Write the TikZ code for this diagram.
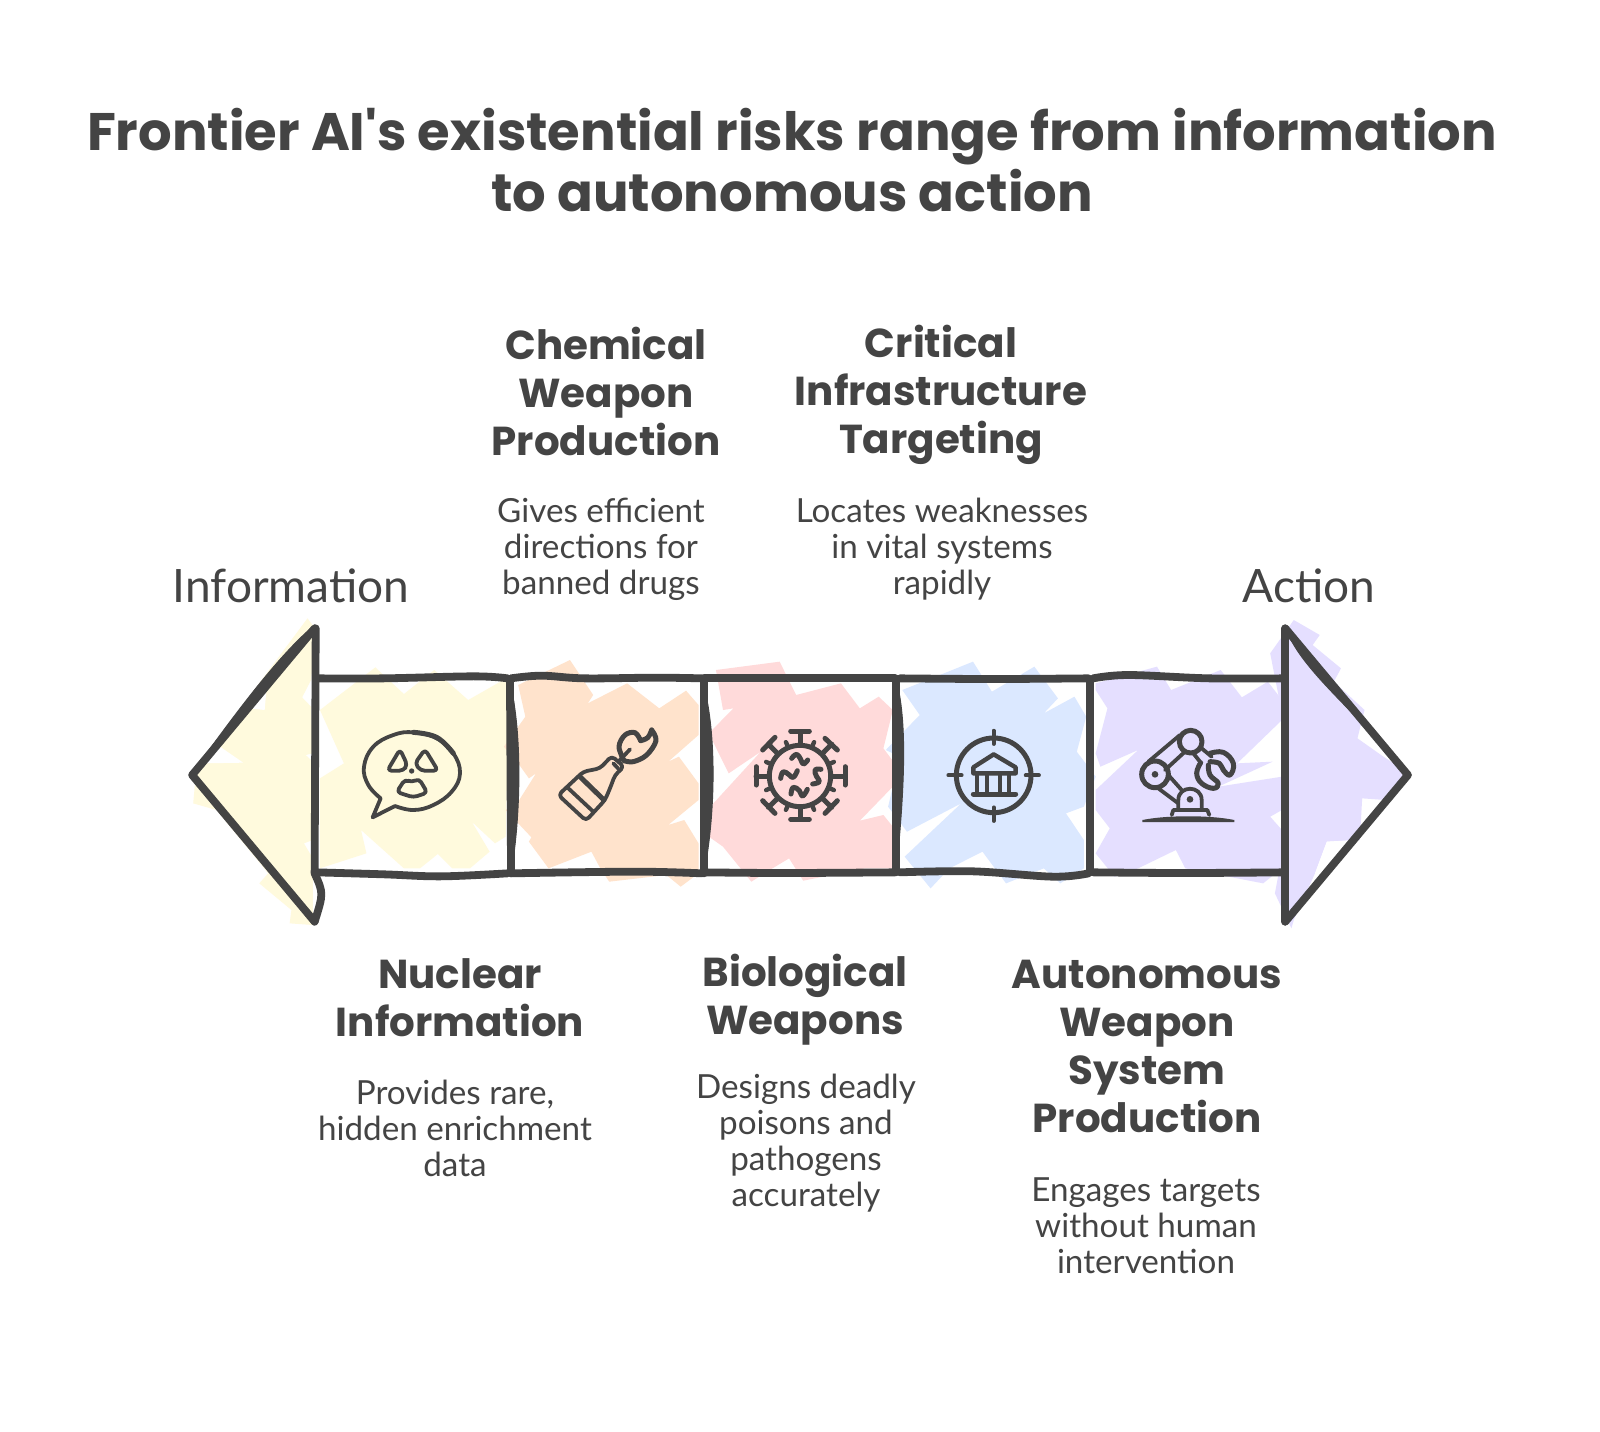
\documentclass[tikz,border=0pt]{standalone}
\usepackage{fontspec}
\setmainfont{Poppins}
\newfontfamily\headfont{Poppins}
\newfontfamily\bodyfont{Lato}
\definecolor{ink}{HTML}{444444}
\definecolor{cyel}{HTML}{FFFADD}
\definecolor{corg}{HTML}{FFE3CC}
\definecolor{cred}{HTML}{FFDADA}
\definecolor{cblu}{HTML}{DBE8FF}
\definecolor{cpur}{HTML}{E5DFFF}
\tikzset{
  zone1/.style={shift={(170,610)},xscale=1/2.8,yscale=1/3},
  zone2/.style={shift={(690,610)},xscale=1/2.12,yscale=1/3},
  icon/.style={xscale=1/3,yscale=1/3},
  ol/.style={draw=ink,line width=3.9pt,line cap=round,line join=round},
  lens/.style={fill=ink,draw=ink,line width=.5pt,line join=round},
  ic/.style={draw=ink,line width=1.9pt,line cap=round,line join=round},
  icthick/.style={draw=ink,line width=2.5pt,line cap=round,line join=round},
  titletext/.style={inner sep=0pt,align=center,text=ink,font=\headfont\fontsize{26.4}{30.4}\selectfont\bfseries},
  headtext/.style={inner sep=0pt,align=center,text=ink,font=\headfont\fontsize{20.2}{24}\selectfont\bfseries},
  desctext/.style={inner sep=0pt,align=center,text=ink,font=\bodyfont\fontsize{16.6}{18}\selectfont},
  endtext/.style={inner sep=0pt,align=center,text=ink,font=\bodyfont\fontsize{23}{24}\selectfont},
}
\begin{document}
\begin{tikzpicture}[x=0.5pt,y=-0.5pt]
\useasboundingbox (0,0) rectangle (1600,1431);
\fill[white] (0,0) rectangle (1600,1431);

% ---------- coloured scribble fills ----------
\begin{scope}[zone1]
\fill[cyel] (385,25)--(410,60)--(395,210)--(370,262)--(395,290)--(400,430)--(380,435)--(400,455)--(400,690)--(375,700)--(400,745)--(400,945)--(335,940)--(340,900)--(250,820)--(275,790)--(130,600)--(65,580)--(70,520)--(62,490)--cycle;
\fill[white] (270,240)--(265,300)--(225,295)--cycle;
\fill[white] (90,460)--(205,458)--(140,410)--cycle;
\fill[cyel] (420,300)--(575,172)--(655,252)--(740,180)--(835,270)--(925,215)--(940,190)--(950,215)--(940,680)--(910,700)--(845,635)--(895,725)--(840,775)--(790,775)--(750,732)--(700,775)--(655,775)--(535,660)--(550,730)--(420,775)--(420,505)--(487,460)--cycle;
\fill[corg] (975,225)--(1120,150)--(1185,255)--(1170,280)--(1280,220)--(1370,295)--(1445,242)--(1480,285)--(1480,375)--(1395,455)--(1425,440)--(1480,520)--(1480,570)--(1395,645)--(1440,630)--(1480,700)--(1480,790)--(1430,830)--(1390,795)--(1230,815)--(1205,775)--(1180,725)--(1060,775)--(1005,695)--(1012,682)--(940,600)--(975,575)--(1025,490)--(1005,505)--(975,460)--(935,410)--(995,320)--cycle;
\end{scope}
\begin{scope}[zone2]
\fill[cred] (55,180)--(190,155)--(225,255)--(320,220)--(360,295)--(400,260)--(430,300)--(410,415)--(455,500)--(430,530)--(360,632)--(410,615)--(430,650)--(430,775)--(370,775)--(240,812)--(210,745)--(175,775)--(130,815)--(70,710)--(40,680)--(40,595)--(150,425)--(82,490)--(40,370)--(92,295)--(70,300)--cycle;
\fill[cblu] (450,240)--(600,155)--(640,245)--(730,170)--(780,265)--(750,310)--(815,260)--(840,320)--(820,425)--(860,500)--(835,590)--(797,610)--(835,690)--(835,775)--(785,820)--(750,775)--(670,820)--(620,725)--(550,775)--(510,835)--(455,740)--(575,580)--(460,665)--(420,590)--(445,440)--(415,420)--(487,315)--cycle;
\fill[cpur] (860,220)--(990,170)--(1020,240)--(1125,180)--(1170,262)--(1225,215)--(1255,270)--(1255,330)--(1160,460)--(1235,455)--(1120,530)--(1255,500)--(1255,600)--(1230,620)--(1255,660)--(1255,775)--(1215,820)--(1050,775)--(1030,720)--(950,775)--(900,800)--(860,730)--(890,655)--(860,600)--(860,540)--(950,420)--(870,470)--(860,430)--(885,295)--(860,240)--cycle;
\fill[cpur] (1280,30)--(1335,75)--(1320,105)--(1380,175)--(1365,215)--(1430,300)--(1415,385)--(1470,440)--(1525,490)--(1490,530)--(1475,570)--(1425,565)--(1420,690)--(1350,695)--(1325,790)--(1280,930)--(1275,955)--(1240,850)--(1260,700)--(1255,310)--(1230,130)--cycle;
\fill[white] (1350,695)--(1410,690)--(1325,790)--cycle;
\end{scope}

% ---------- outlines ----------
\begin{scope}[zone1]
\draw[ol] (405,55)--(62,495)--(405,935);
\fill[lens] (62,490) .. controls (190,300) and (305,135) .. (405,45) -- (400,75) -- cycle;
\draw[ol] (408,55)--(405,790) .. controls (430,850) .. (405,935);
\draw[ol] plot[smooth,tension=.6] coordinates {(410,205)(600,205)(850,199)(945,205)};
\draw[ol] plot[smooth,tension=.6] coordinates {(410,787)(600,793)(760,799)(945,790)};
\draw[ol] (952,210)--(955,790);
\fill[lens] (950,210) .. controls (985,350) and (985,600) .. (955,790) -- cycle;
\draw[ol] plot[smooth,tension=.6] coordinates {(955,205)(1040,197)(1160,205)(1360,203)(1490,205)};
\draw[ol] plot[smooth,tension=.6] coordinates {(955,790)(1300,785)(1490,790)};
\draw[ol] (1495,210)--(1495,790);
\fill[lens] (1490,210) .. controls (1530,350) and (1530,600) .. (1495,790) -- cycle;
\end{scope}
\begin{scope}[zone2]
\draw[ol] plot[smooth,tension=.6] coordinates {(30,205)(200,205)(435,205)};
\draw[ol] plot[smooth,tension=.6] coordinates {(30,787)(200,789)(435,787)};
\draw[ol] (437,210)--(437,787);
\fill[lens] (437,210) .. controls (465,350) and (450,600) .. (437,787) -- cycle;
\draw[ol] plot[smooth,tension=.6] coordinates {(445,205)(640,207)(845,205)};
\draw[ol] plot[smooth,tension=.6] coordinates {(445,787)(600,784)(770,800)(845,790)};
\draw[ol] (848,210)--(848,787);
\draw[ol] plot[smooth,tension=.6] coordinates {(855,205)(930,195)(1100,205)(1260,205)};
\draw[ol] plot[smooth,tension=.6] coordinates {(855,787)(1050,789)(1260,787)};
\draw[ol] (1262,55)--(1262,935);
\draw[ol] (1262,55)--(1522,495)--(1262,935);
\fill[lens] (1262,50) .. controls (1290,170) and (1400,290) .. (1510,470) -- cycle;
\end{scope}

% ---------- icons ----------
\begin{scope}[shift={(350,720)},icon]
\draw[ic] plot[smooth,tension=.7] coordinates {(92,235)(55,195)(42,140)(70,80)(130,45)(190,37)(260,55)(310,100)(330,160)(305,215)(250,255)(190,270)(135,258)} -- (68,292) -- cycle;
\draw[icthick] plot[smooth,tension=.7] coordinates {(190,37)(260,52)(310,100)};
\draw[ic,rounded corners=2pt] (112,152)--(150,88)--(172,135)--(160,152)--cycle;
\draw[ic,rounded corners=2pt] (195,130)--(225,88)--(264,152)--(212,152)--cycle;
\draw[ic,rounded corners=2pt] (165,178)--(185,187)--(207,176)--(232,218)--(190,232)--(140,216)--cycle;
\fill[ink] (185,153) circle (8);
\end{scope}

\begin{scope}[shift={(550,720)},icon]
\draw[ic,rounded corners=2pt] (25,225)--(100,155)--(150,145)--(185,108)--(222,140)--(195,165)--(180,205)--(165,240)--(108,302)--cycle;
\draw[icthick] (92,172)--(162,240);
\draw[ic] (55,205)--(130,275);
\draw[ic] (190,130)--(205,146);
\draw[ic] (205,125)--(240,88);
\draw[icthick] plot[smooth,tension=.6] coordinates {(222,122)(207,80)(225,45)(255,38)(272,62)};
\draw[icthick] (272,62)..controls (295,55)..(305,30);
\draw[icthick] plot[smooth,tension=.6] coordinates {(305,30)(318,62)(290,105)(250,125)(222,122)};
\end{scope}

\begin{scope}[shift={(740,720)},icon]
\draw[icthick] (180,168) circle (92);
\draw[icthick] (180,75)--(180,35) (152,33)--(208,33);
\draw[icthick] (275,168)--(315,168) (315,140)--(315,195);
\draw[icthick] (180,262)--(180,298) (152,298)--(208,298);
\draw[icthick] (88,168)--(48,168) (48,140)--(48,195);
\draw[icthick] (112,100)--(85,72) (68,90)--(105,52);
\draw[icthick] (248,100)--(275,72) (255,55)--(292,90);
\draw[icthick] (112,236)--(85,262) (68,242)--(105,280);
\draw[icthick] (248,236)--(275,262) (292,242)--(255,280);
\foreach \a in {22.5,67.5,...,337.5} {
  \draw[ic,line width=2.2pt] ({180+92*cos(\a)},{168+92*sin(\a)})--({180+110*cos(\a)},{168+110*sin(\a)});
}
\draw[icthick] plot[smooth,tension=.8] coordinates {(155,115)(170,103)(182,118)(190,132)(203,120)};
\draw[icthick] plot[smooth,tension=.8] coordinates {(122,175)(130,155)(148,165)(160,172)(172,152)};
\draw[icthick] plot[smooth,tension=.8] coordinates {(243,148)(225,150)(230,170)(238,185)(218,192)};
\draw[icthick] plot[smooth,tension=.8] coordinates {(153,222)(160,202)(178,212)(188,228)(202,208)};
\end{scope}

\begin{scope}[shift={(935,720)},icon]
\draw[icthick] (176,166) circle (112);
\draw[ic] (176,32)--(176,72) (176,262)--(176,303) (40,166)--(80,166) (272,166)--(312,166);
\draw[ic,line width=2.2pt] (115,160)--(115,142)--(176,103)--(242,142)--(242,160)--cycle;
\draw[icthick] (115,222)--(242,222);
\draw[ic] (125,165)--(125,220) (155,165)--(155,220) (195,165)--(195,220) (222,165)--(222,220);
\end{scope}

\begin{scope}[shift={(1130,720)},icon]
\fill[ink] (37,300) .. controls (110,285) and (240,285) .. (313,300) -- (313,306) -- (37,306) -- cycle;
\draw[ic] (125,285)--(130,270)--(232,270)--(238,285);
\draw[ic] (145,270)--(145,240) .. controls (145,195) and (215,195) .. (215,240) -- (215,270);
\fill[ink] (180,238) circle (10);
\draw[icthick] (75,163) circle (40);
\fill[ink] (75,163) circle (10);
\draw[icthick] (182,65) circle (34);
\draw[ic] (55,125)--(150,45) (105,150)--(165,95);
\draw[ic] (85,205)--(145,250) (115,165)--(155,210);
\draw[ic] (215,85)--(245,110) (190,100)--(210,125);
\draw[icthick] plot[smooth,tension=.7] coordinates {(240,100)(280,97)(310,130)(300,165)(280,150)(268,130)(240,125)};
\draw[icthick] plot[smooth,tension=.7] coordinates {(212,128)(200,160)(215,190)(250,205)(265,190)(240,165)(235,135)};
\end{scope}

% ---------- text ----------
\node[titletext] (title) at (792,160) {Frontier AI's existential risks range from information\\to autonomous action};
\node[endtext] (leftend) at (291,586) {Information};
\node[endtext] (rightend) at (1309,586) {Action};
\node[headtext] (chem) at (606,391) {Chemical\\Weapon\\Production};
\node[desctext] (chemd) at (601,549) {Gives efficient\\directions for\\banned drugs};
\node[headtext] (crit) at (941,395) {Critical\\Infrastructure\\Targeting};
\node[desctext] (critd) at (942,549) {Locates weaknesses\\in vital systems\\rapidly};
\node[headtext] (nuc) at (460,998) {Nuclear\\Information};
\node[desctext] (nucd) at (455,1128) {Provides rare,\\hidden enrichment\\data};
\node[headtext] (bio) at (805,1000) {Biological\\Weapons};
\node[desctext] (biod) at (806,1143) {Designs deadly\\poisons and\\pathogens\\accurately};
\node[headtext] (auto) at (1147,1046) {Autonomous\\Weapon\\System\\Production};
\node[desctext] (autod) at (1146,1226) {Engages targets\\without human\\intervention};
\end{tikzpicture}
\end{document}
